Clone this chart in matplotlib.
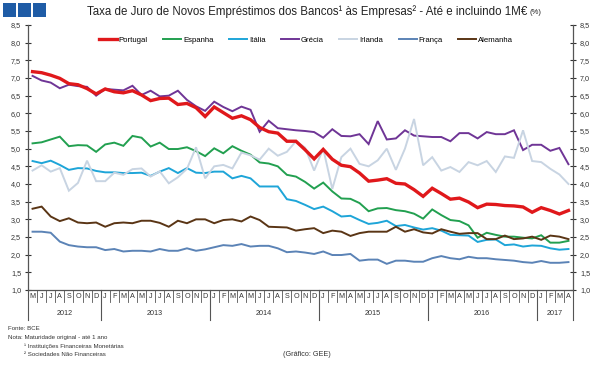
#!/usr/bin/env python3
"""Taxa de juro de novos empréstimos às empresas (até 1M€), maio 2012 - abril 2017.

Saída: out.png
"""

import matplotlib.pyplot as plt
from matplotlib.patches import Rectangle
from matplotlib.ticker import FuncFormatter
from matplotlib.transforms import blended_transform_factory

plt.rcParams["font.family"] = ["Liberation Sans", "DejaVu Sans"]

OUT = "out.png"

MONTH_INITIALS = ["J", "F", "M", "A", "M", "J", "J", "A", "S", "O", "N", "D"]
START_MONTH = 4  # maio (índice 0 = janeiro)
START_YEAR = 2012
N_MONTHS = 60

COUNTRIES = ["Portugal", "Espanha", "Itália", "Grécia", "Irlanda", "França", "Alemanha"]
COLORS = ["#e0181b", "#22a050", "#1ea5d8", "#6f3596", "#c8d4e2", "#5b83b6", "#5a3515"]

portugal = [7.18, 7.15, 7.08, 6.99, 6.84, 6.81, 6.70, 6.55, 6.69, 6.61,
            6.58, 6.64, 6.52, 6.36, 6.42, 6.43, 6.25, 6.28, 6.16, 5.91,
            6.18, 6.02, 5.86, 5.93, 5.82, 5.60, 5.48, 5.44, 5.21, 5.21,
            4.97, 4.71, 4.98, 4.70, 4.53, 4.49, 4.31, 4.08, 4.11, 4.15,
            4.02, 4.00, 3.84, 3.65, 3.88, 3.73, 3.57, 3.60, 3.49, 3.33,
            3.43, 3.42, 3.39, 3.38, 3.35, 3.20, 3.33, 3.25, 3.15, 3.25]
espanha = [5.15, 5.18, 5.26, 5.34, 5.07, 5.10, 5.09, 4.91, 5.12, 5.17,
           5.08, 5.36, 5.31, 5.06, 5.17, 4.99, 4.99, 5.04, 4.93, 4.79,
           5.01, 4.87, 5.07, 4.94, 4.83, 4.61, 4.58, 4.50, 4.26, 4.21,
           4.06, 3.87, 4.04, 3.79, 3.59, 3.58, 3.46, 3.23, 3.31, 3.32,
           3.26, 3.23, 3.16, 3.02, 3.28, 3.12, 2.98, 2.95, 2.83, 2.48,
           2.62, 2.56, 2.51, 2.51, 2.48, 2.46, 2.55, 2.34, 2.34, 2.39]
italia = [4.65, 4.59, 4.66, 4.54, 4.40, 4.45, 4.44, 4.37, 4.33, 4.33,
          4.31, 4.31, 4.32, 4.23, 4.35, 4.45, 4.31, 4.45, 4.32, 4.31,
          4.35, 4.35, 4.16, 4.23, 4.16, 3.93, 3.93, 3.93, 3.57, 3.52,
          3.41, 3.29, 3.36, 3.23, 3.08, 3.10, 2.98, 2.87, 2.90, 2.96,
          2.81, 2.84, 2.77, 2.71, 2.75, 2.68, 2.56, 2.55, 2.54, 2.36,
          2.42, 2.43, 2.27, 2.29, 2.23, 2.26, 2.25, 2.18, 2.14, 2.16]
grecia = [7.06, 6.93, 6.87, 6.71, 6.81, 6.77, 6.75, 6.50, 6.69, 6.67,
          6.65, 6.78, 6.52, 6.64, 6.48, 6.50, 6.64, 6.38, 6.20, 6.07,
          6.33, 6.18, 6.06, 6.19, 6.10, 5.48, 5.79, 5.58, 5.55, 5.52,
          5.50, 5.47, 5.31, 5.55, 5.36, 5.35, 5.41, 5.13, 5.78, 5.26,
          5.29, 5.52, 5.37, 5.35, 5.33, 5.33, 5.21, 5.44, 5.44, 5.29,
          5.47, 5.41, 5.41, 5.52, 4.96, 5.11, 5.11, 4.94, 5.02, 4.56]
irlanda = [4.38, 4.53, 4.35, 4.45, 3.81, 4.03, 4.66, 4.08, 4.08, 4.32,
           4.26, 4.42, 4.44, 4.21, 4.36, 4.02, 4.19, 4.43, 5.04, 4.16,
           4.50, 4.54, 4.44, 4.89, 4.81, 4.69, 5.00, 4.80, 4.91, 5.21,
           5.03, 4.38, 5.00, 3.86, 4.76, 5.00, 4.57, 4.50, 4.67, 5.00,
           4.40, 5.00, 5.84, 4.53, 4.76, 4.38, 4.48, 4.34, 4.62, 4.53,
           4.65, 4.34, 4.78, 4.74, 5.52, 4.65, 4.62, 4.43, 4.27, 4.00]
franca = [2.65, 2.65, 2.62, 2.37, 2.27, 2.23, 2.21, 2.21, 2.13, 2.16,
          2.09, 2.11, 2.11, 2.09, 2.16, 2.11, 2.11, 2.18, 2.11, 2.15,
          2.21, 2.27, 2.25, 2.30, 2.23, 2.25, 2.25, 2.18, 2.07, 2.09,
          2.06, 2.02, 2.09, 1.99, 1.99, 2.02, 1.83, 1.86, 1.86, 1.74,
          1.83, 1.83, 1.80, 1.80, 1.90, 1.96, 1.90, 1.87, 1.94, 1.90,
          1.90, 1.87, 1.85, 1.83, 1.79, 1.77, 1.82, 1.77, 1.77, 1.79]
alemanha = [3.30, 3.36, 3.08, 2.95, 3.03, 2.91, 2.89, 2.91, 2.79, 2.89,
            2.91, 2.89, 2.96, 2.96, 2.90, 2.79, 2.96, 2.89, 3.00, 3.00,
            2.89, 2.98, 3.00, 2.94, 3.08, 2.98, 2.79, 2.78, 2.77, 2.68,
            2.72, 2.75, 2.61, 2.68, 2.65, 2.53, 2.61, 2.65, 2.65, 2.65,
            2.79, 2.65, 2.72, 2.63, 2.60, 2.72, 2.65, 2.59, 2.61, 2.61,
            2.44, 2.44, 2.54, 2.44, 2.46, 2.51, 2.42, 2.54, 2.51, 2.44]

SERIES = [portugal, espanha, italia, grecia, irlanda, franca, alemanha]

NOTES = [
    "Fonte: BCE",
    "Nota: Maturidade original - até 1 ano",
    "¹ Instituições Financeiras Monetárias",
    "² Sociedades Não Financeiras",
]


def main():
    fig = plt.figure(figsize=(6.03, 3.73), dpi=100)
    ax = fig.add_axes([28 / 603, 1 - 290 / 373, 545 / 603, 265 / 373])

    x = list(range(N_MONTHS))
    for name, vals, col in zip(COUNTRIES, SERIES, COLORS):
        lw = 2.4 if name == "Portugal" else 1.4
        z = 5 if name == "Portugal" else 3
        ax.plot(x, vals, color=col, lw=lw, label=name, zorder=z,
                solid_joinstyle="miter")

    ax.set_xlim(-0.5, N_MONTHS - 0.5)
    ax.set_ylim(1.0, 8.5)
    ax.set_yticks([1.0 + 0.5 * k for k in range(16)])
    ax.yaxis.set_major_formatter(FuncFormatter(lambda v, _: f"{v:.1f}".replace(".", ",")))
    ax.tick_params(axis="y", which="both", left=True, right=True, labelleft=True,
                   labelright=True, direction="inout", length=4, width=0.8,
                   labelsize=5.2, colors="#333333", pad=3)

    # meses: iniciais centradas em cada mês
    labels = [MONTH_INITIALS[(START_MONTH + i) % 12] for i in x]
    ax.set_xticks(x)
    ax.set_xticklabels(labels, fontsize=5.2, color="#333333")
    ax.tick_params(axis="x", length=0, pad=2)

    for s in ["left", "right", "bottom"]:
        ax.spines[s].set_color("#555555")
        ax.spines[s].set_linewidth(0.9)
    ax.spines["top"].set_visible(False)

    trans = blended_transform_factory(ax.transData, ax.transAxes)
    for i in range(N_MONTHS + 1):
        month = (START_MONTH + i) % 12
        edge = i == 0 or i == N_MONTHS or month == 0
        low = -0.115 if edge else -0.045
        ax.plot([i - 0.5, i - 0.5], [0, low], transform=trans, clip_on=False,
                color="#555555", lw=0.8 if edge else 0.6)

    # anos
    start = 0
    year = START_YEAR
    while start < N_MONTHS:
        end = min(start + 12 - (START_MONTH + start) % 12, N_MONTHS)
        ax.text((start + end - 1) / 2, -0.09, str(year), transform=trans,
                ha="center", va="center", fontsize=5.2, color="#333333")
        start = end
        year += 1

    ax.legend(loc="center", bbox_to_anchor=(0.51, 0.943), ncol=7, frameon=False,
              fontsize=5.6, handlelength=2.3, handletextpad=0.25,
              columnspacing=2.0, borderaxespad=0)

    fig.text(87 / 603, 1 - 12 / 373,
             "Taxa de Juro de Novos Empréstimos dos Bancos¹ às Empresas² - Até e incluindo 1M€",
             fontsize=8.3, ha="left", va="center", color="#222222")
    fig.text(530 / 603, 1 - 13 / 373, "(%)", fontsize=5.5, ha="left", va="center",
             color="#222222")

    for k in range(3):
        fig.patches.append(Rectangle(((3 + 15 * k) / 603, 1 - 17 / 373), 13 / 603, 14 / 373,
                                     transform=fig.transFigure, facecolor="#1f5ca6",
                                     edgecolor="none"))

    ys = [329, 337, 346, 355]
    xs = [8, 8, 24, 24]
    for t, xx, yy in zip(NOTES, xs, ys):
        fig.text(xx / 603, 1 - yy / 373, t, fontsize=4.4, ha="left", va="center",
                 color="#333333")
    fig.text(307 / 603, 1 - 355 / 373, "(Gráfico: GEE)", fontsize=5.2, ha="center",
             va="center", color="#333333")

    fig.savefig(OUT, dpi=100)
    plt.close(fig)


if __name__ == "__main__":
    main()
